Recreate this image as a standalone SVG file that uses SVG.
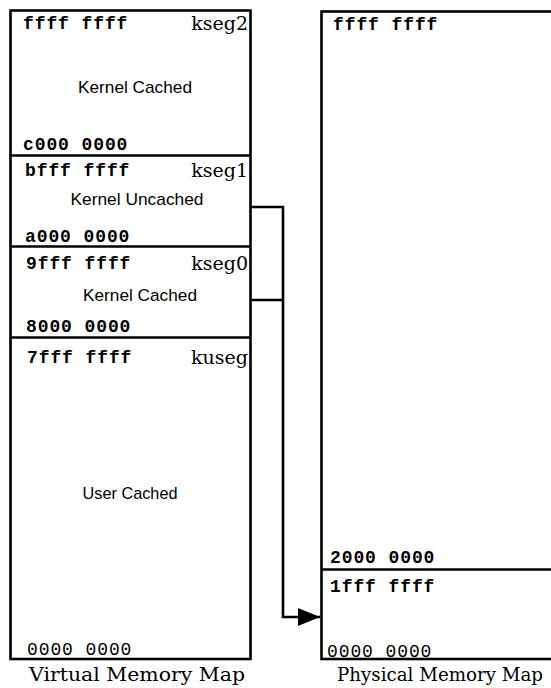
<svg xmlns="http://www.w3.org/2000/svg" width="551" height="688" viewBox="0 0 551 688">
<defs>
<style>
.box{fill:#fff;stroke:#000;stroke-width:2.6}
.div{stroke:#000;stroke-width:2.6;fill:none}
.addr{font-family:"Liberation Mono","Courier New",monospace;font-size:18px;font-weight:bold;letter-spacing:0.9px;fill:#000}
.addrn{font-family:"Liberation Mono","Courier New",monospace;font-size:18px;letter-spacing:0.9px;fill:#000}
.seg{font-family:"DejaVu Serif","Liberation Serif",serif;font-size:19px;fill:#000;text-anchor:end}
.lbl{font-family:"Liberation Sans",Arial,sans-serif;font-size:17px;fill:#000;text-anchor:middle}
.cap{font-family:"DejaVu Serif","Liberation Serif",serif;font-size:19px;fill:#000;text-anchor:middle}
.conn{stroke:#000;stroke-width:2.6;fill:none}
</style>
<marker id="arr" markerWidth="22" markerHeight="18" refX="22" refY="9" orient="auto" markerUnits="userSpaceOnUse">
<path d="M0,0 L22,9 L0,18 Z" fill="#000"/>
</marker>
</defs>

<g id="virtual-map">
<rect class="box" x="10.5" y="10.5" width="240" height="648.5"/>
</g>
<g id="kseg2">
<text class="addr" x="23" y="29">ffff ffff</text>
<text class="seg" x="248" y="30">kseg2</text>
<text class="lbl" x="135" y="93" textLength="114" lengthAdjust="spacingAndGlyphs">Kernel Cached</text>
<text class="addr" x="23" y="150">c000 0000</text>
<line class="div" x1="10.5" y1="155.5" x2="250.5" y2="155.5"/>
</g>
<g id="kseg1">
<text class="addr" x="25" y="176">bfff ffff</text>
<text class="seg" x="248" y="177">kseg1</text>
<text class="lbl" x="137" y="205" textLength="133" lengthAdjust="spacingAndGlyphs">Kernel Uncached</text>
<text class="addr" x="25" y="242">a000 0000</text>
<line class="div" x1="10.5" y1="246.5" x2="250.5" y2="246.5"/>
</g>
<g id="kseg0">
<text class="addr" x="26" y="269">9fff ffff</text>
<text class="seg" x="248" y="270">kseg0</text>
<text class="lbl" x="140" y="300.5" textLength="114" lengthAdjust="spacingAndGlyphs">Kernel Cached</text>
<text class="addr" x="26" y="332">8000 0000</text>
<line class="div" x1="10.5" y1="337.5" x2="250.5" y2="337.5"/>
</g>
<g id="kuseg">
<text class="addr" x="27" y="363">7fff ffff</text>
<text class="seg" x="248" y="364">kuseg</text>
<text class="lbl" x="130" y="499" textLength="95" lengthAdjust="spacingAndGlyphs">User Cached</text>
<text class="addrn" x="27" y="655">0000 0000</text>
</g>
<g id="virtual-caption">
<text class="cap" x="137" y="681" textLength="216" lengthAdjust="spacingAndGlyphs">Virtual Memory Map</text>
</g>

<g id="physical-map">
<rect class="box" x="321.5" y="11.5" width="240" height="647.5"/>
<text class="addr" x="333" y="30">ffff ffff</text>
<text class="addr" x="330" y="563">2000 0000</text>
<line class="div" x1="321.5" y1="569.5" x2="560" y2="569.5"/>
</g>
<g id="physical-low">
<text class="addr" x="330" y="592">1fff ffff</text>
<text class="addrn" x="327" y="657">0000 0000</text>
</g>
<g id="physical-caption">
<text class="cap" x="440" y="681" textLength="206" lengthAdjust="spacingAndGlyphs">Physical Memory Map</text>
</g>

<g id="connectors">
<polyline class="conn" points="250.5,207 283,207 283,617 320,617" marker-end="url(#arr)"/>
<polyline class="conn" points="250.5,300 283,300"/>
</g>
</svg>
